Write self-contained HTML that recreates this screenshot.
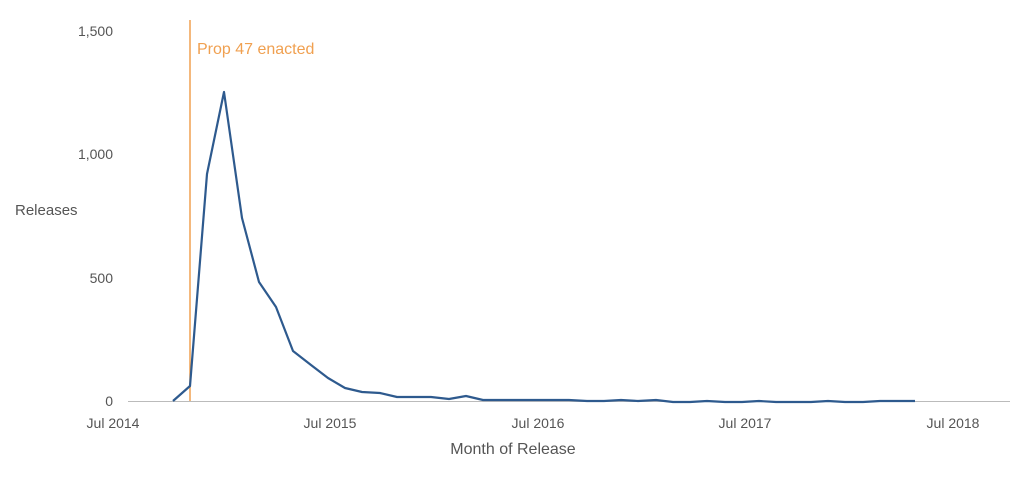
<!DOCTYPE html>
<html><head><meta charset="utf-8"><style>
body{margin:0;background:#fff;width:1024px;height:473px;overflow:hidden}
svg text{font-family:"Liberation Sans",sans-serif;fill:#555}
</style></head><body>
<svg width="1024" height="473" viewBox="0 0 1024 473">
<line x1="128" y1="401.5" x2="1010" y2="401.5" stroke="#bbb" stroke-width="1"/>
<g font-size="14" text-anchor="end">
<text x="113" y="36">1,500</text>
<text x="113" y="159">1,000</text>
<text x="113" y="283">500</text>
<text x="113" y="406">0</text>
</g>
<text x="15" y="215" font-size="15">Releases</text>
<g font-size="14" text-anchor="middle">
<text x="113" y="428">Jul 2014</text>
<text x="330" y="428">Jul 2015</text>
<text x="538" y="428">Jul 2016</text>
<text x="745" y="428">Jul 2017</text>
<text x="953" y="428">Jul 2018</text>
</g>
<text x="513" y="454" font-size="16" text-anchor="middle">Month of Release</text>
<line x1="190" y1="20" x2="190" y2="401" stroke="#f0a050" stroke-width="1.5"/>
<text x="197" y="54" font-size="16" style="fill:#f0a050">Prop 47 enacted</text>
<polyline fill="none" stroke="#2e5a8e" stroke-width="2.2" stroke-linejoin="round" points="173,401 190,386 207,174 224,92 242,218 259,282 276,307 293,351 311,365 328,378 345,388 362,392 380,393 397,397 414,397 431,397 449,399 466,396 483,400 500,400 518,400 535,400 552,400 569,400 587,401 604,401 621,400 638,401 656,400 673,402 690,402 707,401 725,402 742,402 759,401 776,402 794,402 811,402 828,401 845,402 863,402 880,401 897,401 915,401"/>
</svg>
</body></html>
